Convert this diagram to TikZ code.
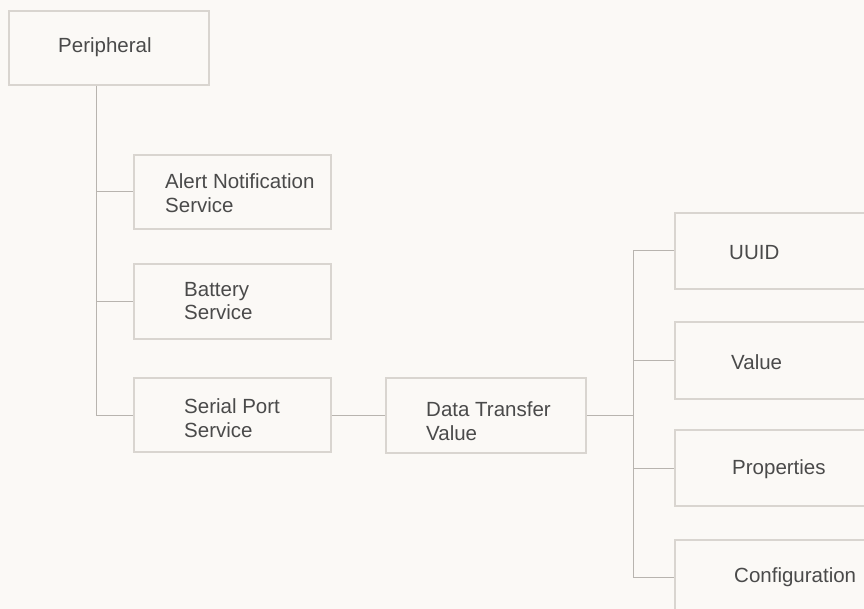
\documentclass[tikz,border=0pt]{standalone}
\usepackage{fontspec}
\setmainfont{Liberation Sans}
\definecolor{bgc}{HTML}{FBF9F6}
\definecolor{boxline}{HTML}{D9D5D0}
\definecolor{connc}{HTML}{B8B4AF}
\definecolor{txtc}{HTML}{4A4A4A}
\begin{document}
\begin{tikzpicture}[x=1pt,y=-1pt,
  box/.style={draw=boxline, line width=1.3pt, fill=bgc, inner sep=0pt},
  lbl/.style={anchor=west, align=left, text=txtc, inner sep=0pt,
    font=\fontsize{20.5}{23.5}\selectfont},
  conn/.style={draw=connc, line width=1pt}]
\useasboundingbox (0,0) rectangle (864,609);
\clip (0,0) rectangle (864,609);
\fill[bgc] (0,0) rectangle (864,609);
% boxes
\node[box, minimum width=200pt, minimum height=74pt] (per) at (109,48) {};
\node[box, minimum width=197pt, minimum height=74pt] (alert) at (232.5,192) {};
\node[box, minimum width=197pt, minimum height=75pt] (batt) at (232.5,301.5) {};
\node[box, minimum width=197pt, minimum height=74pt] (serial) at (232.5,415) {};
\node[box, minimum width=200pt, minimum height=75pt] (data) at (486,415.5) {};
\node[box, minimum width=225pt, minimum height=76pt] (uuid) at (787.5,251) {};
\node[box, minimum width=225pt, minimum height=77pt] (value) at (787.5,360.5) {};
\node[box, minimum width=225pt, minimum height=76pt] (prop) at (787.5,468) {};
\node[box, minimum width=225pt, minimum height=75pt] (conf) at (787.5,577.5) {};
% labels
\node[lbl] (tper) at (58,47) {Peripheral};
\node[lbl] (talert) at (165,193) {Alert Notification\\Service};
\node[lbl] (tbatt) at (184,301) {Battery\\Service};
\node[lbl] (tserial) at (184,418) {Serial Port\\Service};
\node[lbl] (tdata) at (426,421) {Data Transfer\\Value};
\node[lbl] (tuuid) at (729,253) {UUID};
\node[lbl] (tvalue) at (731,362) {Value};
\node[lbl] (tprop) at (732,469) {Properties};
\node[lbl] (tconf) at (734,577) {Configuration};
% trunks
\coordinate (tA) at (96,0);
\coordinate (tB) at (633,0);
\draw[conn] (per.south -| tA) |- (serial.west);
\draw[conn] (tA |- alert.west) -- (alert.west);
\draw[conn] (tA |- batt.west) -- (batt.west);
\draw[conn] (serial.east) -- (serial.east -| data.west);
\draw[conn] (data.east) -- (tB |- data.east);
\draw[conn] (uuid.west) -| (tB |- conf.west) -- (conf.west);
\draw[conn] (tB |- value.west) -- (value.west);
\draw[conn] (tB |- prop.west) -- (prop.west);
\end{tikzpicture}
\end{document}
